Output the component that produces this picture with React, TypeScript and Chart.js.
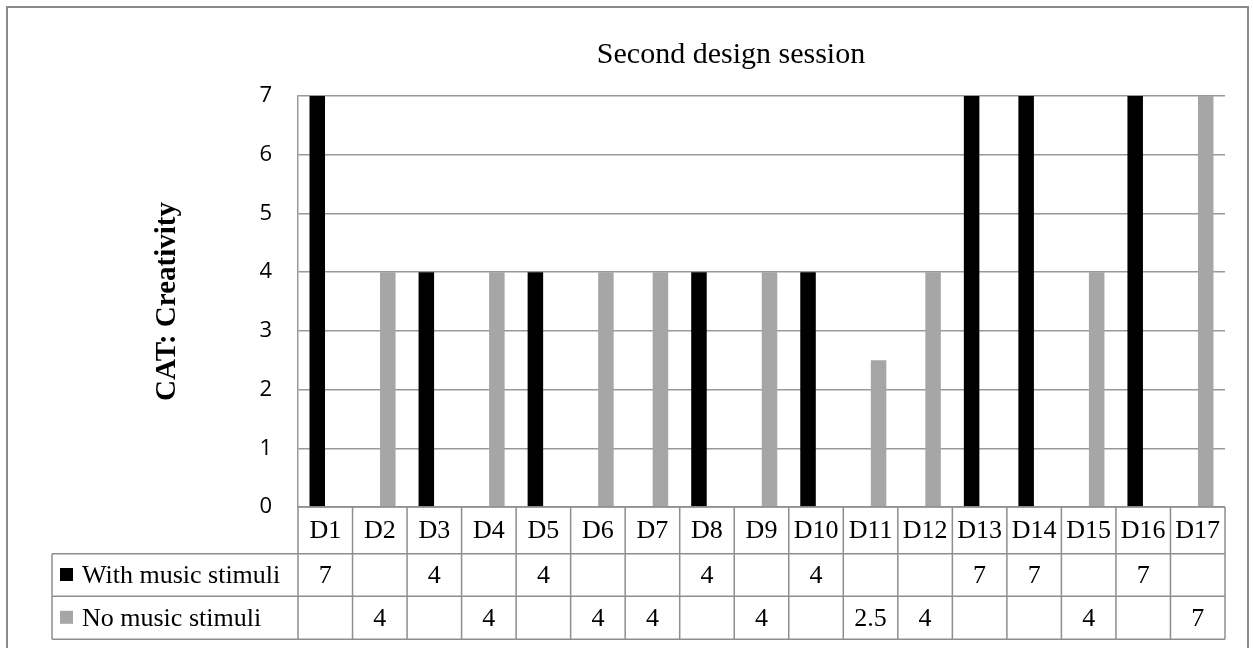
import React, { useEffect, useRef } from "react";
import { Chart, registerables } from "chart.js";

Chart.register(...registerables);

const categories = ["D1", "D2", "D3", "D4", "D5", "D6", "D7", "D8", "D9", "D10", "D11", "D12", "D13", "D14", "D15", "D16", "D17"];
const withMusic: (number | null)[] = [7, null, 4, null, 4, null, null, 4, null, 4, null, null, 7, 7, null, 7, null];
const noMusic: (number | null)[] = [null, 4, null, 4, null, 4, 4, null, 4, null, 2.5, 4, null, null, 4, null, 7];
const seriesLabels = ["With music stimuli", "No music stimuli"];
const seriesColors = ["#000000", "#A6A6A6"];
const yTickValues = [0, 1, 2, 3, 4, 5, 6, 7];
const chartTitle = "Second design session";
const yAxisTitle = "CAT: Creativity";

const W = 1253;
const H = 648;
const SERIF = '"Liberation Serif", "Times New Roman", serif';
const LINE = "#8E8E8E";

const tablePlugin = {
  id: "excelTable",
  beforeDraw(chart: any) {
    const ctx = chart.ctx;
    ctx.save();
    ctx.fillStyle = "#ffffff";
    ctx.fillRect(0, 0, chart.width, chart.height);
    ctx.restore();
  },
  afterDraw(chart: any) {
    const ctx = chart.ctx as CanvasRenderingContext2D;
    const xs = chart.scales.x;
    const area = chart.chartArea;
    const n = categories.length;
    const step = xs.getPixelForValue(1) - xs.getPixelForValue(0);
    const left = xs.getPixelForValue(0) - step / 2;
    const right = xs.getPixelForValue(n - 1) + step / 2;
    const r0 = area.bottom;
    const r1 = r0 + 46.7;
    const r2 = r1 + 42.6;
    const r3 = r2 + 43;
    const tableLeft = 52;

    ctx.save();
    // outer frame
    ctx.strokeStyle = "#8A8A8A";
    ctx.lineWidth = 2;
    ctx.strokeRect(7, 7, 1241, 700);

    // title
    ctx.fillStyle = "#000";
    ctx.font = `30px ${SERIF}`;
    ctx.textAlign = "center";
    ctx.textBaseline = "alphabetic";
    ctx.fillText(chartTitle, 731, 63);

    // table lines
    ctx.strokeStyle = LINE;
    ctx.lineWidth = 1.5;
    ctx.beginPath();
    ctx.moveTo(left, r0);
    ctx.lineTo(right, r0);
    for (const y of [r1, r2, r3]) {
      ctx.moveTo(tableLeft, y);
      ctx.lineTo(right, y);
    }
    for (let i = 0; i <= n; i++) {
      const x = left + i * step;
      ctx.moveTo(x, r0);
      ctx.lineTo(x, r3);
    }
    ctx.moveTo(tableLeft, r1);
    ctx.lineTo(tableLeft, r3);
    ctx.stroke();

    // category labels
    ctx.fillStyle = "#000";
    ctx.font = `26px ${SERIF}`;
    ctx.textAlign = "center";
    ctx.textBaseline = "middle";
    const c0 = (r0 + r1) / 2 + 1;
    const c1 = (r1 + r2) / 2 + 1;
    const c2 = (r2 + r3) / 2 + 1;
    categories.forEach((c, i) => {
      ctx.fillText(c, xs.getPixelForValue(i), c0);
    });
    const rows = [withMusic, noMusic];
    const centers = [c1, c2];
    rows.forEach((vals, r) => {
      vals.forEach((v, i) => {
        if (v !== null) ctx.fillText(String(v), xs.getPixelForValue(i), centers[r]);
      });
    });

    // row headers with legend keys
    ctx.textAlign = "left";
    seriesLabels.forEach((lab, r) => {
      const cy = centers[r];
      ctx.fillStyle = seriesColors[r];
      ctx.fillRect(60, cy - 8, 13, 13);
      ctx.fillStyle = "#000";
      ctx.fillText(lab, 82, cy);
    });
    ctx.restore();
  },
};

export default function App() {
  const ref = useRef<HTMLCanvasElement | null>(null);

  useEffect(() => {
    if (!ref.current) return;
    const chart = new Chart(ref.current, {
      type: "bar",
      data: {
        labels: categories,
        datasets: [
          {
            label: seriesLabels[0],
            data: withMusic,
            backgroundColor: seriesColors[0],
            categoryPercentage: 0.587,
            barPercentage: 0.97,
          },
          {
            label: seriesLabels[1],
            data: noMusic,
            backgroundColor: seriesColors[1],
            categoryPercentage: 0.587,
            barPercentage: 0.97,
          },
        ],
      },
      options: {
        animation: false,
        responsive: false,
        devicePixelRatio: 1,
        layout: { padding: { left: 0, top: 96, right: 28, bottom: 141 } },
        plugins: {
          legend: { display: false },
          tooltip: { enabled: false },
          title: { display: false },
        },
        scales: {
          x: {
            display: false,
          },
          y: {
            min: 0,
            max: 7,
            afterBuildTicks: (scale: any) => {
              scale.ticks = yTickValues.map((v) => ({ value: v }));
            },
            afterFit: (scale: any) => {
              scale.width = 298;
            },
            ticks: {
              stepSize: 1,
              padding: 26,
              color: "#000",
              font: { family: '"Open Sans", "Liberation Sans", sans-serif', size: 22 },
            },
            grid: {
              color: "#999999",
              lineWidth: 1.5,
              drawTicks: false,
            },
            border: { display: true, color: "#999999", width: 1.5 },
            title: {
              display: true,
              text: yAxisTitle,
              color: "#000",
              font: { family: SERIF, size: 29, weight: "bold" },
              padding: { top: 150, bottom: 0 },
            },
          },
        },
      },
      plugins: [tablePlugin],
    } as any);
    return () => chart.destroy();
  }, []);

  return (
    <div style={{ position: "absolute", left: 0, top: 0, width: W, height: H }}>
      <canvas ref={ref} width={W} height={H} style={{ display: "block" }} />
    </div>
  );
}
